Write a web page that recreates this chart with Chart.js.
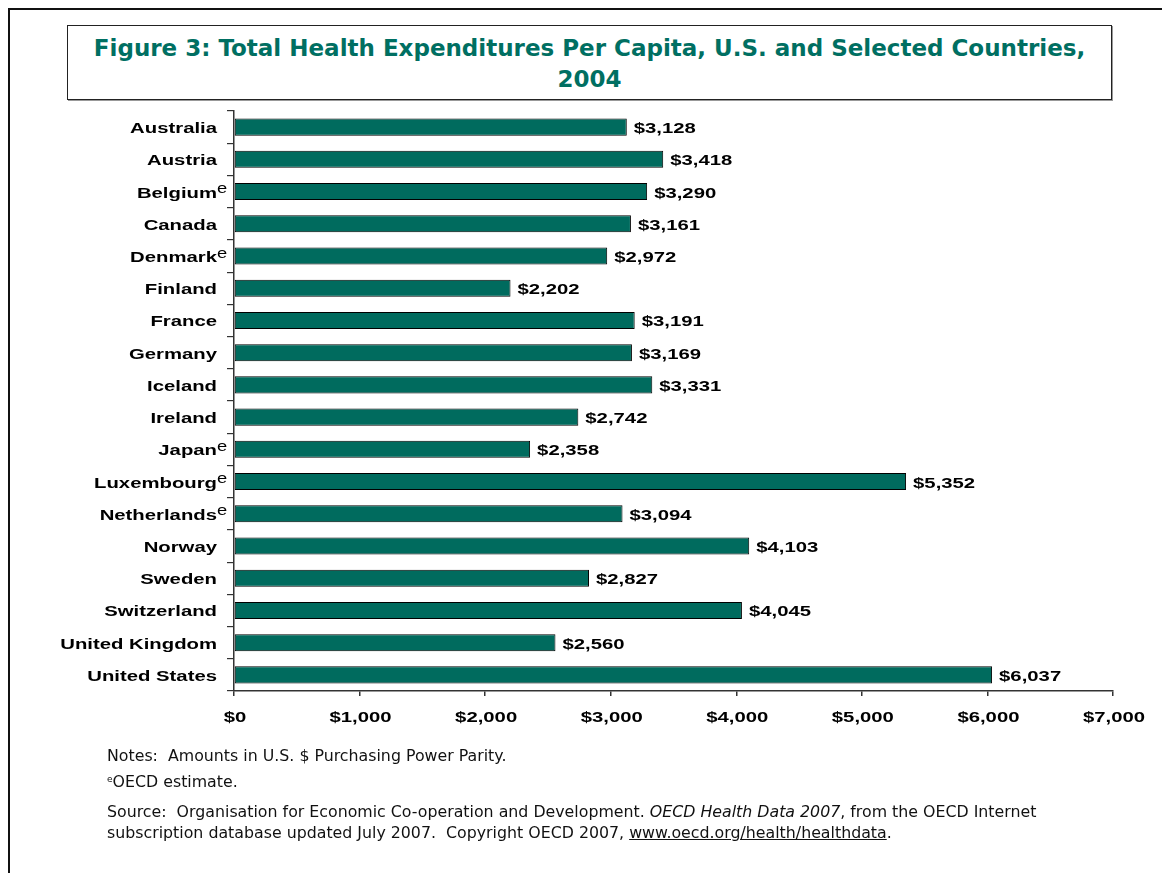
<!DOCTYPE html>
<html><head><meta charset="utf-8">
<script src="https://cdn.jsdelivr.net/npm/chart.js@4.4.1/dist/chart.umd.min.js"></script>
<style>
html,body{margin:0;padding:0;background:#fff;width:1162px;height:873px;overflow:hidden;position:relative;font-family:"DejaVu Sans",sans-serif;}
#frame{position:absolute;left:8px;top:8px;width:1170px;height:880px;border:2px solid #111;box-sizing:border-box;}
#titlebox{position:absolute;left:67px;top:25px;width:1045px;height:75px;border:1.5px solid #222;box-shadow:1px 1px 0 #999;box-sizing:border-box;background:#fff;
 color:#006F62;font-weight:bold;font-size:23px;text-align:center;line-height:31px;padding-top:7px;font-family:"DejaVu Sans",sans-serif;white-space:nowrap;}
#chartwrap{position:absolute;left:0;top:0;width:1162px;height:873px;}
.note{position:absolute;left:107px;font-size:15.8px;line-height:19px;color:#111;font-family:"DejaVu Sans",sans-serif;white-space:nowrap;}
.note sup{font-size:9px;vertical-align:5px;line-height:0;}
</style></head>
<body>
<div id="frame"></div>
<div id="titlebox">Figure 3: Total Health Expenditures Per Capita, U.S. and Selected Countries,<br>2004</div>
<div id="chartwrap"><canvas id="c" width="1162" height="873"></canvas></div>
<div class="note" style="top:746px">Notes:&nbsp; Amounts in U.S. $ Purchasing Power Parity.</div>
<div class="note" style="top:772px"><sup>e</sup>OECD estimate.</div>
<div class="note" style="top:802px">Source:&nbsp; Organisation for Economic Co-operation and Development. <i>OECD Health Data 2007</i>, from the OECD Internet</div>
<div class="note" style="top:823px">subscription database updated July 2007.&nbsp; Copyright OECD 2007, <u>www.oecd.org/health/healthdata</u>.</div>
<script>
const countries = ["Australia","Austria","Belgium","Canada","Denmark","Finland","France","Germany","Iceland","Ireland","Japan","Luxembourg","Netherlands","Norway","Sweden","Switzerland","United Kingdom","United States"];
const estimated = [false,false,true,false,true,false,false,false,false,false,true,true,true,false,false,false,false,false];
const spending = [3128,3418,3290,3161,2972,2202,3191,3169,3331,2742,2358,5352,3094,4103,2827,4045,2560,6037];
const xTicks = [0,1000,2000,3000,4000,5000,6000,7000];

const fmt = v => "$" + v.toLocaleString("en-US");
const STRETCH = 1.31;
const boldFont = 'bold 15.5px "Liberation Sans", Arial, sans-serif';
const supFont = '14px "Liberation Sans", Arial, sans-serif';

function stretchedText(ctx, text, x, y, align) {
  ctx.save();
  ctx.translate(x, y);
  ctx.scale(STRETCH, 1);
  ctx.textAlign = align;
  ctx.fillText(text, 0, 0);
  ctx.restore();
}

const textPlugin = {
  id: "textPlugin",
  afterDraw(chart) {
    const ctx = chart.ctx;
    const meta = chart.getDatasetMeta(0);
    const xs = chart.scales.x, ys = chart.scales.y;
    ctx.save();
    ctx.fillStyle = "#000";
    ctx.textBaseline = "alphabetic";
    ctx.font = boldFont;
    meta.data.forEach((bar, i) => {
      stretchedText(ctx, fmt(spending[i]), bar.x + 7, bar.y + 6, "left");
    });
    countries.forEach((c, i) => {
      const y = ys.getPixelForValue(i);
      ctx.font = boldFont;
      stretchedText(ctx, c, ys.right - 17, y + 6, "right");
      if (estimated[i]) {
        ctx.font = supFont;
        stretchedText(ctx, "e", ys.right - 17, y + 1.5, "left");
      }
    });
    ctx.font = boldFont;
    xTicks.forEach(v => {
      stretchedText(ctx, fmt(v), xs.getPixelForValue(v) + 1, xs.top + 31, "center");
    });
    ctx.restore();
  }
};

new Chart(document.getElementById("c"), {
  type: "bar",
  data: {
    labels: countries,
    datasets: [{
      data: spending,
      backgroundColor: "#006B5E",
      borderColor: "#000",
      borderWidth: 1,
      borderSkipped: false,
      categoryPercentage: 1,
      barPercentage: 0.53
    }]
  },
  options: {
    indexAxis: "y",
    responsive: false,
    animation: false,
    devicePixelRatio: 1,
    layout: { padding: { left: 0, top: 111, right: 49, bottom: 142 } },
    plugins: { legend: { display: false }, tooltip: { enabled: false } },
    scales: {
      x: {
        min: 0, max: 7000,
        afterBuildTicks: s => { s.ticks = xTicks.map(v => ({ value: v })); },
        afterFit: s => { s.height = 40; },
        grid: { drawOnChartArea: false, drawTicks: true, tickLength: 5, color: "#333", lineWidth: 1.5 },
        border: { color: "#333", width: 1.5 },
        ticks: { display: false }
      },
      y: {
        afterFit: s => { s.width = 234; },
        grid: { drawOnChartArea: false, drawTicks: true, tickLength: 7, color: "#333", offset: true, lineWidth: 1.2 },
        border: { color: "#333", width: 1.5 },
        ticks: { display: false, autoSkip: false }
      }
    }
  },
  plugins: [textPlugin]
});
</script>
</body></html>
